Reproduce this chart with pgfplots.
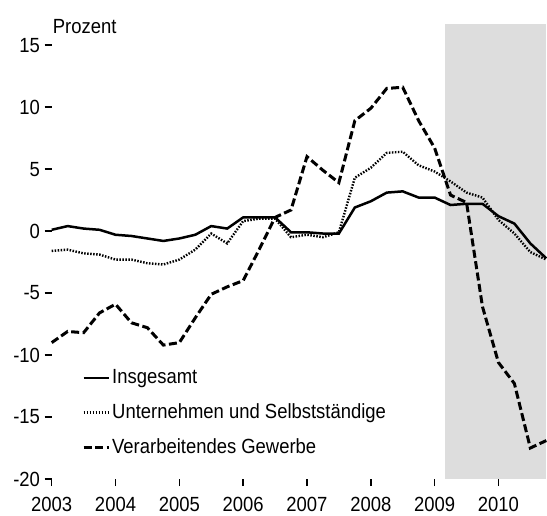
\documentclass[border=0pt]{standalone}
\usepackage{fontspec}
\setmainfont{Liberation Sans}[FakeStretch=0.9]
\usepackage{pgfplots}
\pgfplotsset{compat=1.18}
\newcommand\cf{\fontsize{20.5bp}{24bp}\selectfont}
\definecolor{shade}{RGB}{221,221,221}

\pgfplotstableread{
x insg unt verarb
2003.00  0.1 -1.6  -9.0
2003.25  0.4 -1.5  -8.1
2003.50  0.2 -1.8  -8.2
2003.75  0.1 -1.9  -6.6
2004.00 -0.3 -2.3  -5.9
2004.25 -0.4 -2.3  -7.4
2004.50 -0.6 -2.6  -7.8
2004.75 -0.8 -2.7  -9.2
2005.00 -0.6 -2.3  -9.0
2005.25 -0.3 -1.5  -7.0
2005.50  0.4 -0.2  -5.1
2005.75  0.2 -1.0  -4.5
2006.00  1.1  0.8  -4.0
2006.25  1.1  1.0  -1.5
2006.50  1.1  1.0   1.1
2006.75 -0.1 -0.5   1.7
2007.00 -0.1 -0.3   6.0
2007.25 -0.2 -0.5   4.9
2007.50 -0.2 -0.1   3.9
2007.75  1.9  4.3   8.9
2008.00  2.4  5.1   9.9
2008.25  3.1  6.3  11.5
2008.50  3.2  6.4  11.6
2008.75  2.7  5.3   8.9
2009.00  2.7  4.8   6.7
2009.25  2.1  4.0   2.9
2009.50  2.2  3.1   2.3
2009.75  2.2  2.7  -6.1
2010.00  1.2  0.9 -10.6
2010.25  0.6 -0.2 -12.3
2010.50 -1.0 -1.7 -17.5
2010.75 -2.2 -2.3 -16.9
}\datatable

\begin{document}
\cf
\begin{tikzpicture}
\begin{axis}[
  at={(0,0)}, anchor=south west,
  scale only axis, width=494.6bp, height=455bp,
  xmin=2003, xmax=2010.75, ymin=-20, ymax=16.7,
  axis lines=left, axis line style={draw=none},
  clip=false,
  xtick={2003,2004,2005,2006,2007,2008,2009,2010},
  xticklabels={2003,2004,2005,2006,2007,2008,2009,2010},
  ytick={-20,-15,-10,-5,0,5,10,15},
  yticklabels={-20,-15,-10,-5,0,5,10,15},
  tick align=outside, major tick length=7bp,
  tick style={line width=1.6bp, black},
  xticklabel style={font=\cf, anchor=north, inner sep=0pt, yshift=-11bp},
  yticklabel style={font=\cf, anchor=east, inner sep=0pt, xshift=-4.5bp},
  legend style={draw=none, fill=none, font=\cf,
    at={(0.0673,0.246)}, anchor=north west, xshift=-3bp,
    row sep=13bp, inner sep=0pt},
  legend cell align=left,
  legend image code/.code={\draw[#1] (0bp,0bp) -- (25bp,0bp);},
]
\addplot[draw=none, fill=shade, forget plot] coordinates
  {(2009.165,-20) (2009.165,16.7) (2010.75,16.7) (2010.75,-20)} -- cycle;
\addplot[black, line width=2.5bp] table[x=x, y=insg] {\datatable};
\addlegendentry{Insgesamt}
\addplot[black, line width=2.4bp, dash pattern=on 1.5bp off 1.5bp] table[x=x, y=unt] {\datatable};
\addlegendentry{Unternehmen und Selbstständige}
\addplot[black, line width=3bp, dash pattern=on 8bp off 3.5bp] table[x=x, y=verarb] {\datatable};
\addlegendentry{Verarbeitendes Gewerbe}
\node[anchor=base west, inner sep=0pt, font=\cf] at (axis cs:2003,15.97) [xshift=1bp] {Prozent};
\end{axis}
\pgfresetboundingbox
\path[use as bounding box] (-51.7bp,-37bp) rectangle (495.3bp,479bp);
\end{tikzpicture}
\end{document}
